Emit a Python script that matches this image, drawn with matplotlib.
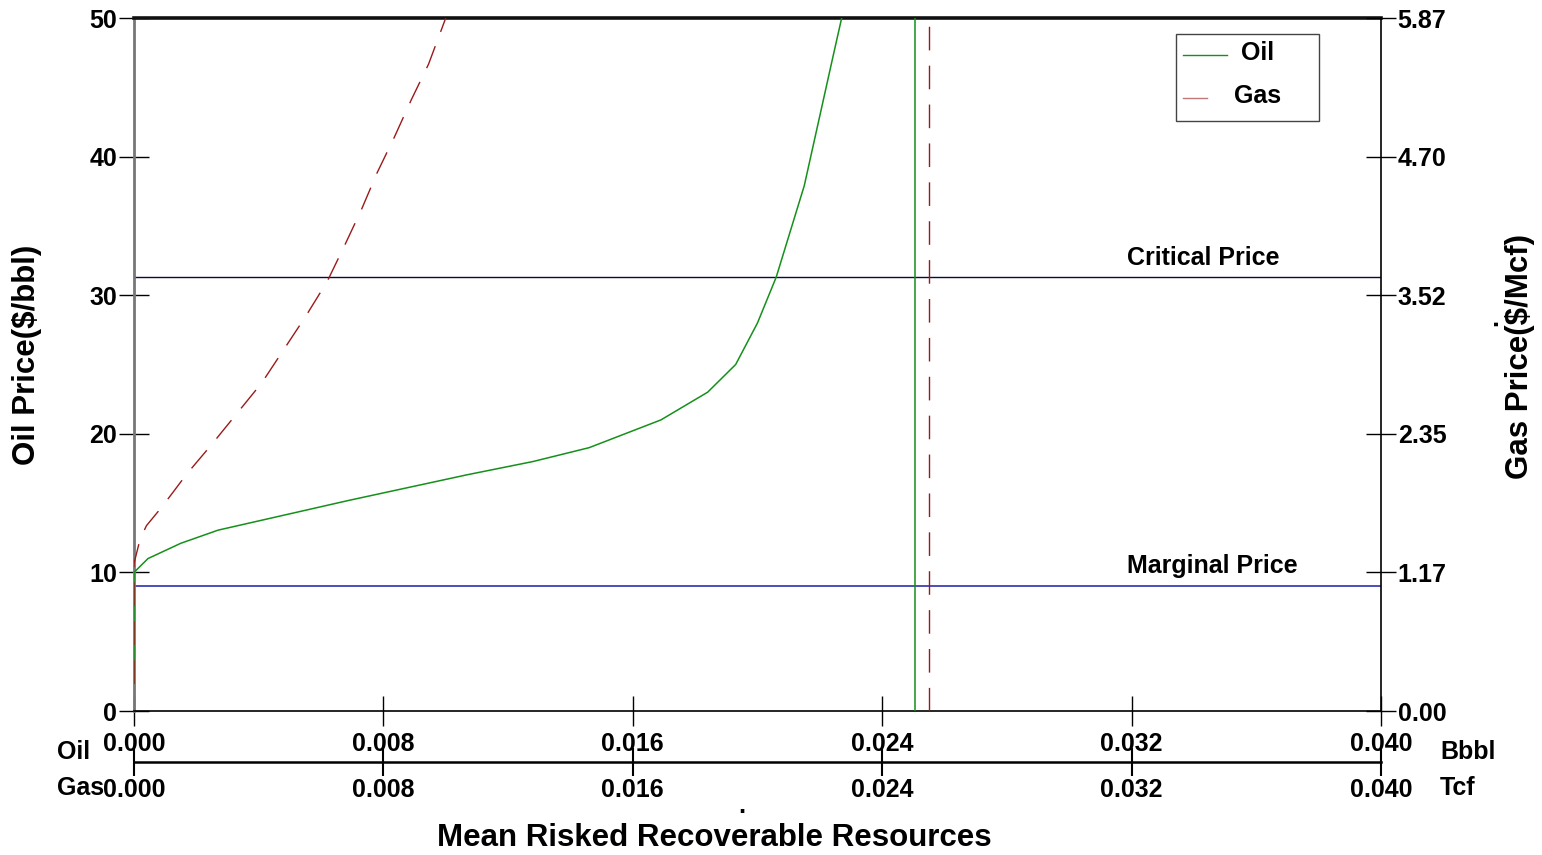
import numpy as np
import matplotlib
matplotlib.use("Agg")
import matplotlib.pyplot as plt
from matplotlib.lines import Line2D
from matplotlib.patches import Rectangle

plt.rcParams['font.family'] = ['Liberation Sans', 'DejaVu Sans']
plt.rcParams['font.weight'] = 'bold'

# ---------------- data ----------------
oil_x = [0.0, 0.0, 0.00045, 0.0015, 0.0027, 0.0069, 0.0107, 0.0128, 0.0146,
         0.0169, 0.0184, 0.0193, 0.0200, 0.0206, 0.0215, 0.0224, 0.0227]
oil_price = [2, 10, 11, 12.1, 13.05, 15.2, 17.05, 18.0, 19.0,
             21.0, 23.0, 25.0, 28.0, 31.3, 37.9, 47.0, 50.0]

gas_x = [0.0, 0.0, 0.0002, 0.0004, 0.0009, 0.0017, 0.0025, 0.0033, 0.0041,
         0.0048, 0.0055, 0.0062, 0.00675, 0.0073, 0.0078, 0.00835, 0.0089,
         0.00945, 0.0100]
gas_price = [0.23, 1.25, 1.46, 1.57, 1.73, 2.01, 2.26, 2.52, 2.78,
             3.06, 3.34, 3.64, 3.94, 4.25, 4.56, 4.86, 5.18,
             5.48, 5.87]

critical_price = 31.3
marginal_price = 9.0
oil_mean = 0.02505
gas_mean = 0.0255

x_ticks = [0.000, 0.008, 0.016, 0.024, 0.032, 0.040]
x_ticklabels = ['0.000', '0.008', '0.016', '0.024', '0.032', '0.040']
oil_ticks = [0, 10, 20, 30, 40, 50]
gas_tick_labels = ['0.00', '1.17', '2.35', '3.52', '4.70', '5.87']
gas_max = 5.87
oil_max = 50

# ---------------- figure ----------------
W, H = 1542, 855
fig = plt.figure(figsize=(W / 100, H / 100), dpi=100)
L, R, T, B = 134, 1381, 18, 711
ax = fig.add_axes([L / W, 1 - B / H, (R - L) / W, (B - T) / H])

def axf(px, py):
    return ((px - L) / (R - L), (B - py) / (B - T))

FS = 18
FL = 22.5
GREEN = '#15901a'
RED = '#9a1a1a'

ax.plot(oil_x, oil_price, color=GREEN, lw=1.1, zorder=3)
ax.axvline(oil_mean, color=GREEN, lw=1.1, zorder=3)
ax.axhline(critical_price, color='#0a0a40', lw=1.0, zorder=2)
ax.axhline(marginal_price, color='#1c1ca8', lw=1.1, zorder=2)

ax.set_xlim(0, 0.040)
ax.set_ylim(0, oil_max)
ax.set_xticks(x_ticks)
ax.set_xticklabels(x_ticklabels)
ax.set_yticks(oil_ticks)
ax.set_yticklabels([str(v) for v in oil_ticks])
ax.tick_params(axis='y', direction='inout', length=22, width=1.0, pad=1,
               labelsize=FS, right=False)
ax.tick_params(axis='x', direction='inout', length=21, width=1.0, pad=4.5,
               labelsize=FS)
for lab in ax.get_xticklabels() + ax.get_yticklabels():
    lab.set_fontweight('bold')

ax.spines['left'].set_color('#777777')
ax.spines['left'].set_linewidth(2.0)
ax.spines['top'].set_color('#111111')
ax.spines['top'].set_linewidth(2.6)
ax.spines['bottom'].set_linewidth(1.2)
ax.spines['right'].set_visible(False)

# gas axis (right)
ax2 = ax.twinx()
ax2.plot(gas_x, gas_price, color=RED, lw=1.0, dashes=(17, 11), zorder=3)
ax2.axvline(gas_mean, color=RED, lw=1.0, dashes=(17, 11), zorder=3)
ax2.set_ylim(0, gas_max)
ax2.set_xlim(0, 0.040)
ax2.set_yticks([v * gas_max / oil_max for v in oil_ticks])
ax2.set_yticklabels(gas_tick_labels)
ax2.tick_params(axis='y', direction='inout', length=22, width=1.0, pad=1,
                labelsize=FS)
for lab in ax2.get_yticklabels():
    lab.set_fontweight('bold')
for s in ['left', 'top', 'bottom']:
    ax2.spines[s].set_visible(False)
ax2.spines['right'].set_linewidth(1.2)

# secondary x axis for gas (Tcf)
sec = ax.secondary_xaxis(-(762 - B) / (B - T))
sec.set_xticks(x_ticks)
sec.set_xticklabels(x_ticklabels)
sec.tick_params(axis='x', direction='inout', length=20, width=1.5, pad=1.5,
                labelsize=FS)
for lab in sec.get_xticklabels():
    lab.set_fontweight('bold')
sec.spines['bottom'].set_linewidth(1.8)

# annotations
tx, ty = axf(1127, 258)
ax.text(tx, ty, 'Critical Price', transform=ax.transAxes, fontsize=FS,
        fontweight='bold', ha='left', va='center')
tx, ty = axf(1127, 566)
ax.text(tx, ty, 'Marginal Price', transform=ax.transAxes, fontsize=FS,
        fontweight='bold', ha='left', va='center')

# legend (manual)
x0, y0 = axf(1176, 121)
x1, y1 = axf(1319, 34)
ax2.add_patch(Rectangle((x0, y0), x1 - x0, y1 - y0, transform=ax2.transAxes,
                        facecolor='white', edgecolor='#444444', lw=1.0, zorder=5))
a, b = axf(1183, 55)
c, _ = axf(1227, 55)
ax2.add_line(Line2D([a, c], [b, b], transform=ax2.transAxes, color=GREEN,
                    lw=1.0, zorder=6))
a, b = axf(1183, 98)
c, _ = axf(1207, 98)
ax2.add_line(Line2D([a, c], [b, b], transform=ax2.transAxes, color='#c07878',
                    lw=1.0, zorder=6))
tx, ty = axf(1258, 53)
ax2.text(tx, ty, 'Oil', transform=ax2.transAxes, fontsize=FS, fontweight='bold',
         ha='center', va='center', zorder=7)
tx, ty = axf(1258, 96)
ax2.text(tx, ty, 'Gas', transform=ax2.transAxes, fontsize=FS, fontweight='bold',
         ha='center', va='center', zorder=7)

# axis labels and side labels
def ftext(px, py, s, size=FS, **kw):
    fig.text(px / W, 1 - py / H, s, fontsize=size, fontweight='bold', **kw)

ftext(27, 355, 'Oil Price($/bbl)', size=FL, rotation=90, ha='center', va='center')
ftext(1520, 356, 'Gas Price($/Mcf)', size=FL, rotation=90, ha='center', va='center')
ftext(1490, 322, '.', rotation=90, ha='center', va='center')
ftext(714, 838, 'Mean Risked Recoverable Resources', size=FL, ha='center', va='center')
ftext(742, 806, '.', ha='center', va='center')
ftext(57, 752, 'Oil', ha='left', va='center')
ftext(57, 788, 'Gas', ha='left', va='center')
ftext(1440, 752, 'Bbbl', ha='left', va='center')
ftext(1440, 788, 'Tcf', ha='left', va='center')

fig.savefig('out.png', dpi=100)
